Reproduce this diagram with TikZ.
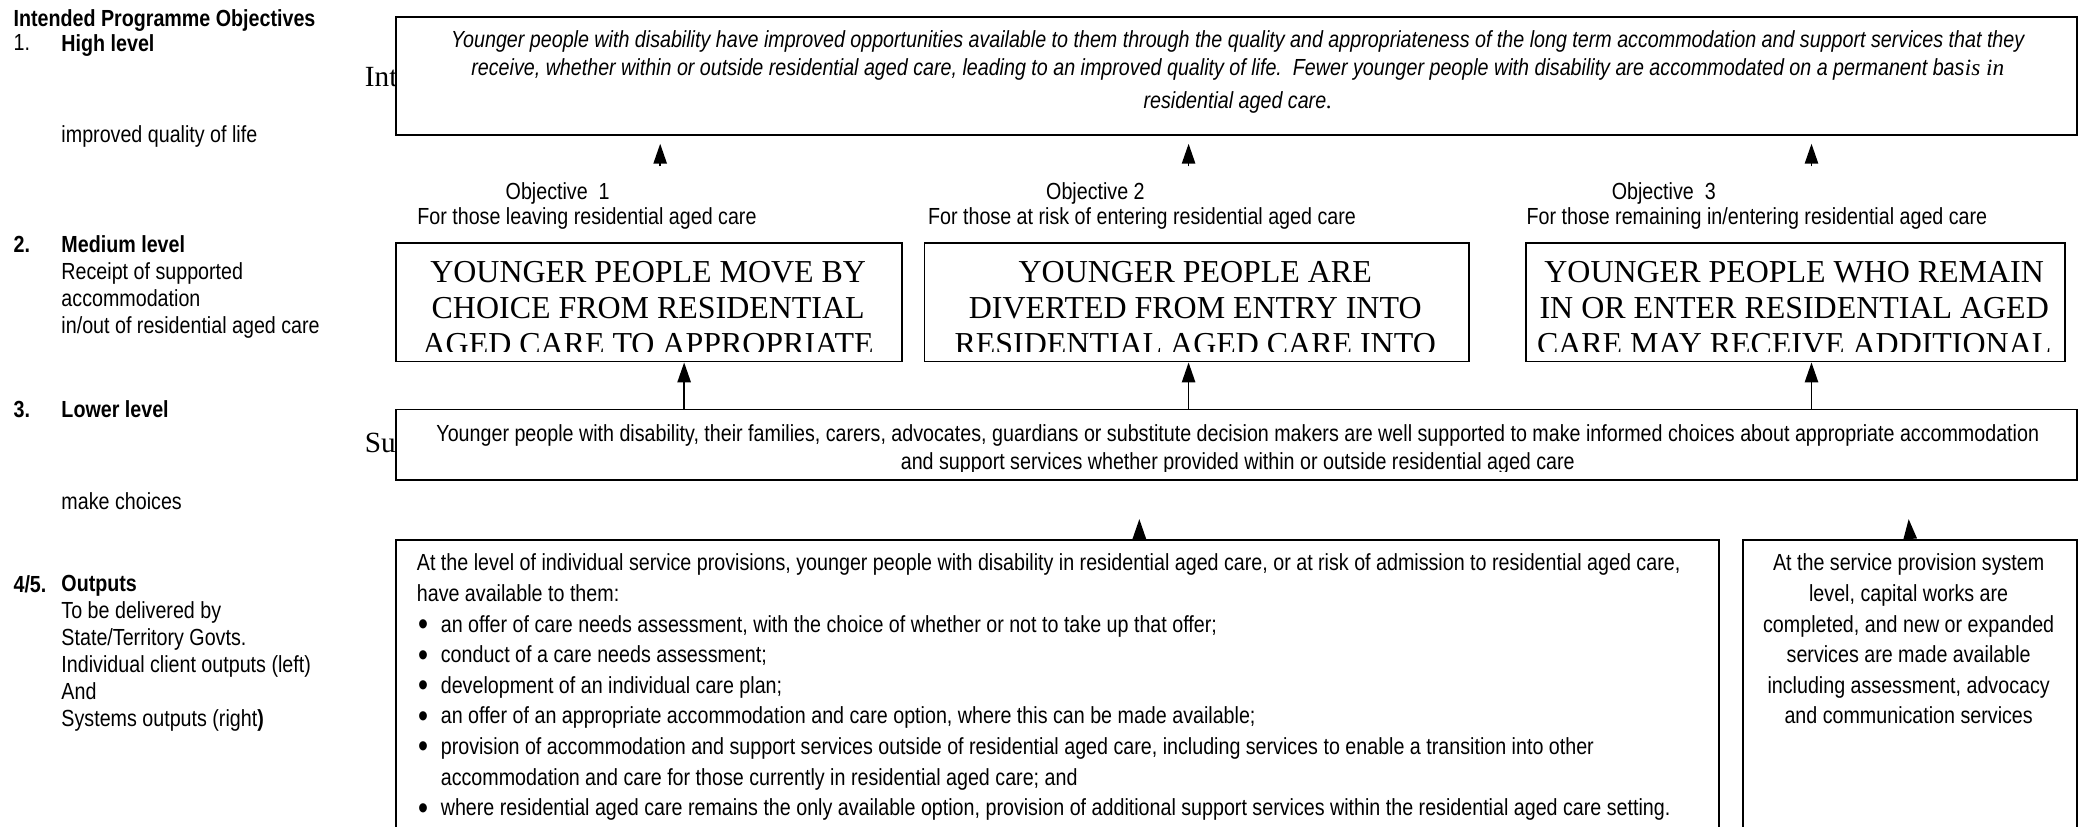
\documentclass[tikz,border=0pt]{standalone}
\usepackage{fontspec}
\setmainfont{Liberation Serif}
\setsansfont[FakeStretch=0.845]{Liberation Sans}
\usetikzlibrary{arrows.meta}
\tikzset{
  every picture/.style={/utils/exec={\sffamily}},
  side/.style={anchor=north west, inner sep=0pt, align=left, font=\sffamily\fontsize{17.5}{20.3}\selectfont},
  box/.style={draw, line width=1.3pt, fill=white, anchor=north west, inner sep=0pt},
  arr/.style={-{Triangle[width=10pt,length=15pt]}, line width=1.3pt},
  capstext/.style={anchor=north, inner sep=0pt, align=center, font=\rmfamily\fontsize{24}{27}\selectfont},
  plain/.style={inner sep=0pt, align=center, font=\sffamily\fontsize{17.5}{21}\selectfont},
  bodytext/.style={anchor=north west, inner sep=0pt, align=left, font=\sffamily\fontsize{17.5}{23}\selectfont}
}
\newcommand{\itm}{\makebox[18pt][l]{\hspace{1pt}\raisebox{-2.5pt}{\scalebox{1.45}{\textbullet}}}}

\begin{document}
\begin{tikzpicture}[x=1pt, y=-1pt]
        \clip (0,0) rectangle (1568,621);
        % levels down the left side
        \node[side, font=\sffamily\bfseries\fontsize{17.5}{20.3}\selectfont] (head) at (10,7) {Intended Programme Objectives};
        \node[side] (n1) at (10,26) {1.};
        \node[side] (lv1) at (46,26) {\textbf{High level}};
        \node[side] (lv1b) at (46,94) {improved quality of life};
        \node[side] (n2) at (10,177) {\textbf{2.}};
        \node[side] (lv2) at (46,177) {\textbf{Medium level}\\Receipt of supported\\accommodation\\in/out of residential aged care};
        \node[side] (n3) at (10,301) {\textbf{3.}};
        \node[side] (lv3) at (46,301) {\textbf{Lower level}};
        \node[side] (lv3b) at (46,370) {make choices};
        \node[side] (n4) at (10,432) {\textbf{4/5.}};
        \node[side] (lv4) at (46,432) {\textbf{Outputs}\\To be delivered by\\State/Territory Govts.\\Individual client outputs (left)\\And\\Systems outputs (right\textbf{)}};

        % headings half hidden behind the boxes
        \node[anchor=base west, inner sep=0pt, font=\rmfamily\fontsize{22}{22}\selectfont] (intd) at (274,65) {Int};
        \node[anchor=base west, inner sep=0pt, font=\rmfamily\fontsize{22}{22}\selectfont] (supd) at (274,340) {Su};

        % outcome box
        \node[box, minimum width=1263pt, minimum height=89pt] (top) at (297,12) {};
        \node[plain, anchor=north, font=\sffamily\itshape\fontsize{17.5}{21}\selectfont] (toptxt) at (930,23)
          {Younger people with disability have improved opportunities available to them through the quality and appropriateness of the long term accommodation and support services that they\\
           receive, whether within or outside residential aged care, leading to an improved quality of life.\ \ Fewer younger people with disability are accommodated on a permanent bas{\rmfamily\itshape is in}\\[4pt]
           residential aged care{\rmfamily\itshape .}};

        % objectives
        \node[plain, anchor=base] (ob1) at (419,150) {Objective\ \ 1};
        \node[plain, anchor=base] (ob1s) at (441,169) {For those leaving residential aged care};
        \node[plain, anchor=base] (ob2) at (823,150) {Objective 2};
        \node[plain, anchor=base] (ob2s) at (858,169) {For those at risk of entering residential aged care};
        \node[plain, anchor=base] (ob3) at (1250,150) {Objective\ \ 3};
        \node[plain, anchor=base] (ob3s) at (1320,169) {For those remaining in/entering residential aged care};

        \node[box, minimum width=380pt, minimum height=89pt] (obj1) at (297,182) {};
        \node[box, minimum width=409pt, minimum height=89pt] (obj2) at (694,182) {};
        \node[box, minimum width=405pt, minimum height=89pt] (obj3) at (1146,182) {};
        \begin{scope}
          \clip (297,183) rectangle (1551,264);
          \node[capstext] (obj1txt) at (487,196) {YOUNGER PEOPLE MOVE BY\\CHOICE FROM RESIDENTIAL\\AGED CARE TO APPROPRIATE};
          \node[capstext] (obj2txt) at (898,196) {YOUNGER PEOPLE ARE\\DIVERTED FROM ENTRY INTO\\RESIDENTIAL AGED CARE INTO};
          \node[capstext] (obj3txt) at (1348,196) {YOUNGER PEOPLE WHO REMAIN\\IN OR ENTER RESIDENTIAL AGED\\CARE MAY RECEIVE ADDITIONAL};
        \end{scope}

        % supported choices
        \node[box, minimum width=1263pt, minimum height=53pt] (mid) at (297,307) {};
        \begin{scope}
          \clip (298,308) rectangle (1559,354.5);
          \node[plain, anchor=north] (midtxt) at (930,319)
            {Younger people with disability, their families, carers, advocates, guardians or substitute decision makers are well supported to make informed choices about appropriate accommodation\\
             and support services whether provided within or outside residential aged care};
        \end{scope}

        % outputs
        \node[box, minimum width=994pt, minimum height=240pt] (indiv) at (297,405) {};
        \node[box, minimum width=251pt, minimum height=240pt] (sys) at (1309,405) {};
        \node[bodytext] (indivtxt) at (313,416)
          {At the level of individual service provisions, younger people with disability in residential aged care, or at risk of admission to residential aged care,\\
           have available to them:\\
           \itm an offer of care needs assessment, with the choice of whether or not to take up that offer;\\
           \itm conduct of a care needs assessment;\\
           \itm development of an individual care plan;\\
           \itm an offer of an appropriate accommodation and care option, where this can be made available;\\
           \itm provision of accommodation and support services outside of residential aged care, including services to enable a transition into other\\
           \hspace*{18pt}accommodation and care for those currently in residential aged care; and\\
           \itm where residential aged care remains the only available option, provision of additional support services within the residential aged care setting.};
        \node[bodytext, anchor=north, align=center] (systxt) at (1434,416)
          {At the service provision system\\level, capital works are\\completed, and new or expanded\\services are made available\\including assessment, advocacy\\and communication services};

        % arrows up to the outcome
        \coordinate (a1) at (496,125);
        \coordinate (a1e) at (496,108);
        \coordinate (a2) at (893,125);
        \coordinate (a2e) at (893,108);
        \coordinate (a3) at (1361,125);
        \coordinate (a3e) at (1361,108);
        \draw[arr] (a1) -- (a1e);
        \draw[arr] (a2) -- (a2e);
        \draw[arr] (a3) -- (a3e);

        % arrows up to the objectives
        \coordinate (m1) at (514,290);
        \coordinate (m2) at (893,290);
        \coordinate (m3) at (1361,290);
        \draw[arr] (mid.north -| m1) -- (obj1.south -| m1);
        \draw[arr] (mid.north -| m2) -- (obj2.south -| m2);
        \draw[arr] (mid.north -| m3) -- (obj3.south -| m3);

        % arrows up from the outputs
        \coordinate (b1) at (856,390);
        \coordinate (b2) at (1434,390);
        \draw[arr] (indiv.north -| b1) -- (b1);
        \draw[arr] (sys.north |- b2) ++(0,15) -- (b2);
    \end{tikzpicture}
\end{document}
